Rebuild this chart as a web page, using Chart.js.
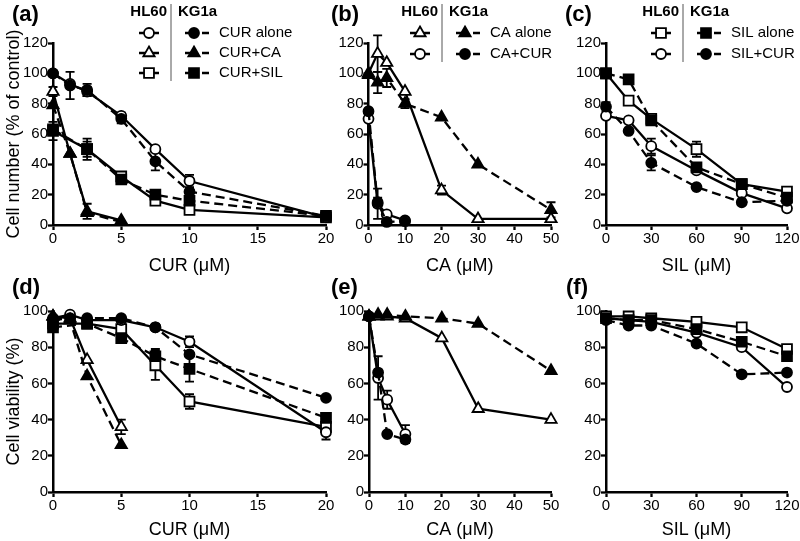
<!DOCTYPE html>
<html><head><meta charset="utf-8">
<script src="https://cdn.jsdelivr.net/npm/chart.js@4.4.1/dist/chart.umd.min.js"></script>
<style>
html,body{margin:0;padding:0;background:#fff;}
#wrap{position:relative;width:800px;height:541px;overflow:hidden;background:#fff;}
#wrap canvas{position:absolute;left:0;top:0;}
</style></head><body>
<div id="wrap">
<canvas id="pa" width="800" height="541"></canvas>
<canvas id="pb" width="800" height="541"></canvas>
<canvas id="pc" width="800" height="541"></canvas>
<canvas id="pd" width="800" height="541"></canvas>
<canvas id="pe" width="800" height="541"></canvas>
<canvas id="pf" width="800" height="541"></canvas>
</div>
<script>
// ---------- Panel (a): cell number vs CUR ----------
const aX      = [0, 1.25, 2.5, 5, 7.5, 10, 20];
const aXca    = [0, 1.25, 2.5, 5];
const aXsil   = [0, 2.5, 5, 7.5, 10, 20];
const aHL60_CUR     = [100, 93, 88, 72, 50, 29, 5];
const aHL60_CUR_err = [0, 0, 3, 2, 0, 4, 0];
const aKG1a_CUR     = [100, 92, 89, 70, 42, 22, 6];
const aKG1a_CUR_err = [0, 9, 4, 3, 6, 0, 0];
const aHL60_CURCA     = [88, 47, 9, 3];
const aHL60_CURCA_err = [3, 0, 5, 0];
const aKG1a_CURCA     = [79, 47, 8, 2];
const aKG1a_CURCA_err = [0, 0, 0, 0];
const aHL60_CURSIL     = [62, 50, 32, 16, 10, 5];
const aHL60_CURSIL_err = [6, 7, 0, 0, 0, 0];
const aKG1a_CURSIL     = [63, 50, 30, 20, 16, 6];
const aKG1a_CURSIL_err = [0, 5, 3, 0, 0, 0];

// ---------- Panel (b): cell number vs CA ----------
const bX    = [0, 2.5, 5, 10, 20, 30, 50];
const bXcur = [0, 2.5, 5, 10];
const bHL60_CA     = [100, 113, 107, 88, 23, 4, 4];
const bHL60_CA_err = [0, 12, 0, 0, 3, 0, 0];
const bKG1a_CA     = [99, 94, 97, 80, 71, 40, 10];
const bKG1a_CA_err = [0, 7, 6, 3, 0, 0, 5];
const bHL60_CACUR     = [70, 14, 7, 3];
const bHL60_CACUR_err = [0, 10, 0, 0];
const bKG1a_CACUR     = [75, 15, 2, 2.5];
const bKG1a_CACUR_err = [0, 3, 0, 0];

// ---------- Panel (c): cell number vs SIL ----------
const cX = [0, 15, 30, 60, 90, 120];
const cHL60_SIL     = [100, 82, 70, 50, 27, 22];
const cHL60_SIL_err = [0, 0, 0, 5, 0, 3];
const cKG1a_SIL     = [100, 96, 69, 38, 27, 18];
const cKG1a_SIL_err = [0, 0, 3, 3, 0, 0];
const cHL60_SILCUR     = [72, 69, 52, 36, 21, 11];
const cHL60_SILCUR_err = [0, 0, 5, 0, 0, 0];
const cKG1a_SILCUR     = [78, 62, 41, 25, 15, 16];
const cKG1a_SILCUR_err = [3, 0, 5, 0, 0, 0];

// ---------- Panel (d): viability vs CUR ----------
const dX    = [0, 1.25, 2.5, 5, 7.5, 10, 20];
const dXca  = [0, 1.25, 2.5, 5];
const dXsil = [0, 2.5, 5, 7.5, 10, 20];
const dHL60_CUR     = [96, 98, 95, 95, 91, 83, 33];
const dHL60_CUR_err = [0, 0, 0, 0, 0, 3, 4];
const dKG1a_CUR     = [95, 96, 96, 96, 91, 76, 52];
const dKG1a_CUR_err = [0, 0, 0, 0, 0, 0, 0];
const dHL60_CURCA     = [97, 96, 73, 36];
const dHL60_CURCA_err = [0, 0, 0, 4];
const dKG1a_CURCA     = [97, 95, 64, 26];
const dKG1a_CURCA_err = [0, 0, 0, 0];
const dHL60_CURSIL     = [93, 93, 90, 70, 50, 36];
const dHL60_CURSIL_err = [0, 0, 0, 8, 4, 0];
const dKG1a_CURSIL     = [91, 93, 85, 75, 68, 41];
const dKG1a_CURSIL_err = [0, 0, 0, 4, 7, 0];

// ---------- Panel (e): viability vs CA ----------
const eX    = [0, 2.5, 5, 10, 20, 30, 50];
const eXcur = [0, 2.5, 5, 10];
const eHL60_CA     = [97, 97, 97, 96, 85, 46, 40];
const eKG1a_CA     = [97, 98, 98, 97, 96, 93, 67];
const eHL60_CACUR     = [97, 63, 51, 32];
const eHL60_CACUR_err = [0, 12, 5, 5];
const eKG1a_CACUR     = [97, 66, 32, 29];
const eKG1a_CACUR_err = [0, 0, 0, 2];

// ---------- Panel (f): viability vs SIL ----------
const fX = [0, 15, 30, 60, 90, 120];
const fHL60_SIL    = [97, 97, 96, 94, 91, 79];
const fKG1a_SIL    = [96, 95, 95, 90, 83, 75];
const fHL60_SILCUR = [96, 95, 94, 88, 80, 58];
const fKG1a_SILCUR = [95, 92, 92, 82, 65, 66];

// ---------- drawing helpers ----------
const FONT = "'Liberation Sans', Arial, Helvetica, sans-serif";
const RADIUS = {circle: 5, triangle: 6.5, rect: 7};
Chart.defaults.font.family = FONT;
Chart.defaults.color = '#000';

function ds(label, xs, ys, errs, cell, shape) {
  const kg = cell === 'KG1a';
  return {
    label: cell + ' ' + label,
    data: xs.map((x, i) => ({x: x, y: ys[i]})),
    errors: errs || null,
    borderColor: '#000',
    borderWidth: 2.3,
    borderDash: kg ? [9, 5] : [],
    pointStyle: shape,
    pointRadius: RADIUS[shape],
    pointBackgroundColor: kg ? '#000' : '#fff',
    pointBorderColor: '#000',
    pointBorderWidth: 1.8,
    fill: false,
    tension: 0,
    clip: false
  };
}

function drawMarker(ctx, shape, x, y, filled) {
  const r = RADIUS[shape];
  ctx.beginPath();
  if (shape === 'circle') {
    ctx.arc(x, y, r, 0, Math.PI * 2);
  } else if (shape === 'rect') {
    const s = r * Math.SQRT1_2;
    ctx.rect(x - s, y - s, 2 * s, 2 * s);
  } else {
    for (let k = 0; k < 3; k++) {
      const a = k * 2 * Math.PI / 3;
      const px = x + Math.sin(a) * r, py = y - Math.cos(a) * r;
      if (k === 0) ctx.moveTo(px, py); else ctx.lineTo(px, py);
    }
    ctx.closePath();
  }
  ctx.fillStyle = filled ? '#000' : '#fff';
  ctx.fill();
  ctx.lineWidth = 1.8;
  ctx.strokeStyle = '#000';
  ctx.setLineDash([]);
  ctx.stroke();
}

const errorBars = {
  id: 'errorBars',
  beforeDatasetsDraw(chart) {
    const ctx = chart.ctx, xs = chart.scales.x, ys = chart.scales.y;
    ctx.save();
    ctx.strokeStyle = '#000';
    ctx.lineWidth = 1.8;
    ctx.setLineDash([]);
    chart.data.datasets.forEach(d => {
      if (!d.errors) return;
      d.data.forEach((p, i) => {
        const e = d.errors[i];
        if (!e) return;
        const px = xs.getPixelForValue(p.x);
        const t = ys.getPixelForValue(p.y + e);
        const b = ys.getPixelForValue(Math.max(p.y - e, 0));
        ctx.beginPath();
        ctx.moveTo(px, t); ctx.lineTo(px, b);
        ctx.moveTo(px - 4.5, t); ctx.lineTo(px + 4.5, t);
        ctx.moveTo(px - 4.5, b); ctx.lineTo(px + 4.5, b);
        ctx.stroke();
      });
    });
    ctx.restore();
  }
};

const deco = {
  id: 'deco',
  afterDraw(chart, args, o) {
    const ctx = chart.ctx;
    ctx.save();
    ctx.fillStyle = '#000';
    ctx.textBaseline = 'middle';
    ctx.font = 'bold 22px ' + FONT;
    ctx.textAlign = 'left';
    ctx.fillText(o.label, o.lx, o.ly);
    const lg = o.legend;
    if (lg) {
      const vx = lg.vx;
      ctx.font = 'bold 15px ' + FONT;
      ctx.textAlign = 'right';
      ctx.fillText('HL60', vx - 4, lg.hy);
      ctx.textAlign = 'left';
      ctx.fillText('KG1a', vx + 7, lg.hy);
      const lastY = lg.rows[lg.rows.length - 1].y;
      ctx.strokeStyle = '#555';
      ctx.lineWidth = 1;
      ctx.beginPath(); ctx.moveTo(vx, 4); ctx.lineTo(vx, lastY + 8); ctx.stroke();
      ctx.font = '15px ' + FONT;
      lg.rows.forEach(r => {
        const hx = vx - 22, kx = vx + 23;
        ctx.strokeStyle = '#000';
        ctx.lineWidth = 2.3;
        ctx.beginPath();
        ctx.moveTo(hx - 10, r.y); ctx.lineTo(hx + 10, r.y);
        ctx.moveTo(kx - 9, r.y); ctx.lineTo(kx, r.y);
        ctx.moveTo(kx + 8, r.y); ctx.lineTo(kx + 15, r.y);
        ctx.stroke();
        drawMarker(ctx, r.shape, hx, r.y, false);
        drawMarker(ctx, r.shape, kx, r.y, true);
        ctx.fillStyle = '#000';
        ctx.textAlign = 'left';
        ctx.fillText(r.text, vx + 48, r.y);
      });
    }
    ctx.restore();
  }
};

function panel(id, p) {
  const yW = p.yTitle ? 50 : 40;
  const xH = p.area.top < 100 ? 52 : 49;
  new Chart(document.getElementById(id), {
    type: 'line',
    data: {datasets: p.datasets},
    options: {
      responsive: false,
      animation: false,
      devicePixelRatio: 1,
      events: [],
      layout: {padding: {
        left: p.area.left - yW,
        right: 800 - p.area.right,
        top: p.area.top,
        bottom: 541 - p.area.bottom - xH
      }},
      scales: {
        x: {
          type: 'linear', min: 0, max: p.xMax,
          ticks: {stepSize: p.xStep, padding: 0, font: {size: 15}, color: '#000', maxRotation: 0, autoSkip: false},
          grid: {drawOnChartArea: false, drawTicks: true, tickLength: 5, tickWidth: 2.3, tickColor: '#000', color: '#000'},
          border: {display: true, color: '#000', width: 2.5},
          title: {display: true, text: p.xTitle, font: {size: 18}, color: '#000', padding: 0},
          afterFit: s => { s.height = xH; }
        },
        y: {
          type: 'linear', min: 0, max: p.yMax,
          ticks: {stepSize: 20, padding: 0, font: {size: 15}, color: '#000'},
          grid: {drawOnChartArea: false, drawTicks: true, tickLength: 5, tickWidth: 2.3, tickColor: '#000', color: '#000'},
          border: {display: true, color: '#000', width: 2.5},
          title: {display: !!p.yTitle, text: p.yTitle || '', font: {size: 18}, color: '#000', padding: 0},
          afterFit: s => { s.width = yW; }
        }
      },
      plugins: {
        legend: {display: false},
        tooltip: {enabled: false},
        deco: {label: p.label, lx: p.lx, ly: p.ly, legend: p.legend}
      }
    },
    plugins: [errorBars, deco]
  });
}

// (a)
panel('pa', {
  label: '(a)', lx: 12, ly: 15,
  xTitle: 'CUR (μM)', yTitle: 'Cell number (% of control)', xMax: 20, xStep: 5, yMax: 120,
  area: {left: 53, right: 326, top: 43, bottom: 225},
  legend: {vx: 171, hy: 12, rows: [
    {shape: 'circle', text: 'CUR alone', y: 33},
    {shape: 'triangle', text: 'CUR+CA', y: 53},
    {shape: 'rect', text: 'CUR+SIL', y: 73}]},
  datasets: [
    ds('CUR alone', aX, aKG1a_CUR, aKG1a_CUR_err, 'KG1a', 'circle'),
    ds('CUR+CA', aXca, aKG1a_CURCA, aKG1a_CURCA_err, 'KG1a', 'triangle'),
    ds('CUR+SIL', aXsil, aKG1a_CURSIL, aKG1a_CURSIL_err, 'KG1a', 'rect'),
    ds('CUR alone', aX, aHL60_CUR, aHL60_CUR_err, 'HL60', 'circle'),
    ds('CUR+CA', aXca, aHL60_CURCA, aHL60_CURCA_err, 'HL60', 'triangle'),
    ds('CUR+SIL', aXsil, aHL60_CURSIL, aHL60_CURSIL_err, 'HL60', 'rect')
  ]
});
// (b)
panel('pb', {
  label: '(b)', lx: 331, ly: 15,
  xTitle: 'CA (μM)', xMax: 50, xStep: 10, yMax: 120,
  area: {left: 368.5, right: 551, top: 43, bottom: 225},
  legend: {vx: 442, hy: 12, rows: [
    {shape: 'triangle', text: 'CA alone', y: 33},
    {shape: 'circle', text: 'CA+CUR', y: 54}]},
  datasets: [
    ds('CA alone', bX, bKG1a_CA, bKG1a_CA_err, 'KG1a', 'triangle'),
    ds('CA+CUR', bXcur, bKG1a_CACUR, bKG1a_CACUR_err, 'KG1a', 'circle'),
    ds('CA alone', bX, bHL60_CA, bHL60_CA_err, 'HL60', 'triangle'),
    ds('CA+CUR', bXcur, bHL60_CACUR, bHL60_CACUR_err, 'HL60', 'circle')
  ]
});
// (c)
panel('pc', {
  label: '(c)', lx: 565, ly: 15,
  xTitle: 'SIL (μM)', xMax: 120, xStep: 30, yMax: 120,
  area: {left: 606, right: 787, top: 43, bottom: 225},
  legend: {vx: 683, hy: 12, rows: [
    {shape: 'rect', text: 'SIL alone', y: 33},
    {shape: 'circle', text: 'SIL+CUR', y: 54}]},
  datasets: [
    ds('SIL alone', cX, cKG1a_SIL, cKG1a_SIL_err, 'KG1a', 'rect'),
    ds('SIL+CUR', cX, cKG1a_SILCUR, cKG1a_SILCUR_err, 'KG1a', 'circle'),
    ds('SIL alone', cX, cHL60_SIL, cHL60_SIL_err, 'HL60', 'rect'),
    ds('SIL+CUR', cX, cHL60_SILCUR, cHL60_SILCUR_err, 'HL60', 'circle')
  ]
});
// (d)
panel('pd', {
  label: '(d)', lx: 12, ly: 288,
  xTitle: 'CUR (μM)', yTitle: 'Cell viability (%)', xMax: 20, xStep: 5, yMax: 100,
  area: {left: 53, right: 326, top: 311, bottom: 492},
  datasets: [
    ds('CUR alone', dX, dKG1a_CUR, dKG1a_CUR_err, 'KG1a', 'circle'),
    ds('CUR+CA', dXca, dKG1a_CURCA, dKG1a_CURCA_err, 'KG1a', 'triangle'),
    ds('CUR+SIL', dXsil, dKG1a_CURSIL, dKG1a_CURSIL_err, 'KG1a', 'rect'),
    ds('CUR alone', dX, dHL60_CUR, dHL60_CUR_err, 'HL60', 'circle'),
    ds('CUR+CA', dXca, dHL60_CURCA, dHL60_CURCA_err, 'HL60', 'triangle'),
    ds('CUR+SIL', dXsil, dHL60_CURSIL, dHL60_CURSIL_err, 'HL60', 'rect')
  ]
});
// (e)
panel('pe', {
  label: '(e)', lx: 331, ly: 288,
  xTitle: 'CA (μM)', xMax: 50, xStep: 10, yMax: 100,
  area: {left: 369, right: 551, top: 311, bottom: 492},
  datasets: [
    ds('CA alone', eX, eKG1a_CA, null, 'KG1a', 'triangle'),
    ds('CA+CUR', eXcur, eKG1a_CACUR, eKG1a_CACUR_err, 'KG1a', 'circle'),
    ds('CA alone', eX, eHL60_CA, null, 'HL60', 'triangle'),
    ds('CA+CUR', eXcur, eHL60_CACUR, eHL60_CACUR_err, 'HL60', 'circle')
  ]
});
// (f)
panel('pf', {
  label: '(f)', lx: 566, ly: 288,
  xTitle: 'SIL (μM)', xMax: 120, xStep: 30, yMax: 100,
  area: {left: 606, right: 787, top: 311, bottom: 492},
  datasets: [
    ds('SIL alone', fX, fKG1a_SIL, null, 'KG1a', 'rect'),
    ds('SIL+CUR', fX, fKG1a_SILCUR, null, 'KG1a', 'circle'),
    ds('SIL alone', fX, fHL60_SIL, null, 'HL60', 'rect'),
    ds('SIL+CUR', fX, fHL60_SILCUR, null, 'HL60', 'circle')
  ]
});
</script>
</body></html>
